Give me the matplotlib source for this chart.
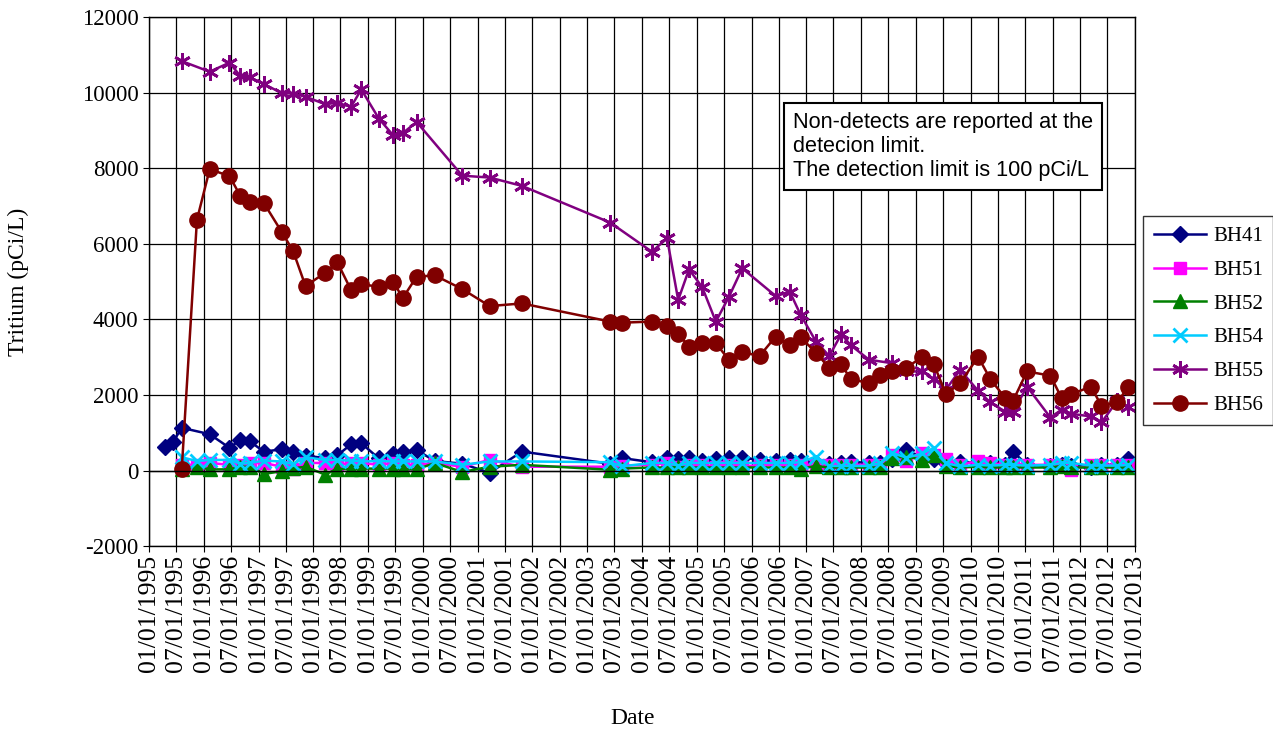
import numpy as np
import matplotlib
matplotlib.use("Agg")
import matplotlib.pyplot as plt
import matplotlib.dates as mdates

# sampling dates shared by all wells (None = not sampled)
dates = ["1995-04-15", "1995-06-10", "1995-08-08", "1995-11-17",
         "1996-02-10", "1996-06-21", "1996-09-02", "1996-11-03",
         "1997-02-06", "1997-06-03", "1997-08-19", "1997-11-10",
         "1998-03-21", "1998-06-10", "1998-09-09", "1998-11-17",
         "1999-03-14", "1999-06-17", "1999-08-22", "1999-11-21",
         "2000-03-22", "2000-09-20", "2001-03-22", "2001-10-23",
         "2003-06-03", "2003-08-19", "2004-03-07", "2004-06-17",
         "2004-08-30", "2004-11-10", "2005-02-06", "2005-05-08",
         "2005-08-04", "2005-10-31", "2006-02-24", "2006-06-10",
         "2006-09-13", "2006-11-24", "2007-03-07", "2007-06-03",
         "2007-08-23", "2007-10-23", "2008-02-24", "2008-05-08",
         "2008-07-24", "2008-10-30", "2009-02-14", "2009-05-01",
         "2009-07-20", "2009-10-23", "2010-02-20", "2010-05-12",
         "2010-08-19", "2010-10-09", "2011-01-12", "2011-06-17",
         "2011-08-30", "2011-11-03", "2012-03-14", "2012-05-22",
         "2012-09-06", "2012-11-18"]

bh41 = [620, 750, 1130, None, 960, 600, 810, 770, 500, 560, 480, 390,
        330, 400, 690, 720, 320, 440, 490, 540, 250, 180, -60, 500,
        180, 330, 220, 330, 300, 330, 250, 310, 340, 340, 280, 250,
        270, 250, 200, 180, 200, 230, 200, 200, 300, 530, 350, 300,
        200, 220, 200, 200, 150, 500, 150, 120, 150, 120, 100, 150,
        150, 300]

bh51 = [None, None, 150, 150, 200, 150, 150, 200, 200, 100, 50, 200,
        200, 150, 200, 200, 150, 200, 150, 150, 200, 100, 280, 100,
        100, 130, 150, 200, 100, 150, 150, 100, 150, 100, 150, 150,
        150, 150, 150, 150, 150, 150, 150, 150, 420, 260, 450, 420,
        300, 150, 250, 200, 150, 150, 150, 150, 150, 20, 150, 150,
        150, 150]

bh52 = [None, None, 50, 100, 30, 30, 100, 100, -90, -20, 60, 100,
        -110, 50, 30, 50, 50, 50, 30, 30, 200, -40, 100, 150,
        20, 50, 80, 80, 100, 80, 80, 80, 80, 80, 80, 80,
        80, 50, 120, 80, 80, 80, 80, 80, 330, 370, 280, 400,
        120, 80, 100, 80, 80, 80, 80, 80, 120, 80, 80, 80,
        80, 80]

bh54 = [None, None, 350, 250, 280, 280, 180, 200, 260, 240, 170, 350,
        280, 280, 260, 240, 250, 240, 240, 240, 240, 150, 240, 240,
        220, 110, 200, 200, 130, 200, 200, 200, 200, 200, 200, 200,
        200, 220, 370, 120, 120, 120, 120, 200, 470, 340, 450, 600,
        200, 110, 150, 130, 150, 150, 130, 150, 200, 200, 130, 130,
        130, 150]

bh55 = [None, None, 10830, None, 10550, 10790, 10430, 10400, 10220, 9990, 9970, 9890,
        9690, 9730, 9620, 10080, 9310, 8870, 8930, 9220, None, 7800, 7750, 7530,
        6560, None, 5790, 6140, 4510, 5320, 4850, 3940, 4600, 5350, None, 4620,
        4730, 4120, 3410, 3030, 3610, 3320, 2930, None, 2840, 2620, 2620, 2420,
        2140, 2660, 2110, 1800, 1560, 1540, 2220, 1400, 1610, 1500, 1430, 1270,
        1850, 1690]

bh56 = [None, None, 50, 6630, 7970, 7790, 7260, 7110, 7070, 6320, 5810, 4880,
        5230, 5510, 4780, 4930, 4860, 4980, 4570, 5130, 5160, 4800, 4350, 4420,
        3940, 3910, 3940, 3830, 3610, 3280, 3370, 3370, 2920, 3130, 3030, 3540,
        3320, 3520, 3120, 2710, 2810, 2420, 2310, 2530, 2620, 2720, 3010, 2810,
        2020, 2310, 3010, 2420, 1920, 1830, 2620, 2510, 1920, 2020, 2220, 1710,
        1810, 2220]

wells = ["BH41", "BH51", "BH52", "BH54", "BH55", "BH56"]
series = [bh41, bh51, bh52, bh54, bh55, bh56]
colors = ["#000080", "#FF00FF", "#008000", "#00CCFF", "#800080", "#800000"]
markers = ["D", "s", "^", "x", (6, 2, 0), "o"]
msizes = [8, 9, 10, 10, 12, 11]

plt.rcParams["font.family"] = ["Liberation Serif", "DejaVu Serif"]
plt.rcParams["axes.unicode_minus"] = False

fig = plt.figure(figsize=(12.73, 7.35), dpi=100)
ax = fig.add_axes([0.117, 0.257, 0.7746, 0.72])

t = np.array(dates, dtype="datetime64[D]")
for name, vals, c, m, ms in zip(wells, series, colors, markers, msizes):
    keep = [v is not None for v in vals]
    x = t[keep]
    y = [v for v in vals if v is not None]
    ax.plot(x, y, color=c, lw=1.8, marker=m, ms=ms, mec=c, mfc=c,
            mew=2 if m in ("x", (6, 2, 0)) else 1, label=name)

ax.set_xlim(np.datetime64("1995-01-01"), np.datetime64("2013-01-01"))
ax.set_ylim(-2000, 12000)
ax.set_yticks(range(-2000, 12001, 2000))
ax.xaxis.set_major_locator(mdates.MonthLocator(bymonth=[1, 7], bymonthday=1))
ax.xaxis.set_major_formatter(mdates.DateFormatter("%m/%d/%Y"))
ax.tick_params(axis="x", labelrotation=90, labelsize=18.5, length=4, pad=2)
ax.tick_params(axis="y", labelsize=16.5, length=4)
ax.grid(True, color="black", lw=0.9)
ax.axhline(0, color="black", lw=1)
for s in ax.spines.values():
    s.set_color("black")
    s.set_linewidth(1)

ax.set_ylabel("Tritium (pCi/L)", fontsize=17)
ax.yaxis.set_label_coords(-0.122, 0.5)
fig.text(0.497, 0.008, "Date", ha="center", va="bottom", fontsize=17)

ax.text(0.653, 0.82,
        "Non-detects are reported at the\ndetecion limit.\nThe detection limit is 100 pCi/L",
        transform=ax.transAxes, ha="left", va="top", fontsize=15.6,
        family=["Liberation Sans", "DejaVu Sans"], linespacing=1.18,
        bbox=dict(boxstyle="square,pad=0.4", fc="white", ec="black", lw=1.5))

leg = fig.legend(loc="upper left", bbox_to_anchor=(0.898, 0.706), fontsize=15,
                 frameon=True, fancybox=False, edgecolor="black",
                 handlelength=2.5, labelspacing=0.68, borderpad=0.5,
                 handletextpad=0.35, borderaxespad=0)
leg.get_frame().set_linewidth(1)

fig.savefig("out.png", dpi=100, facecolor="white")
